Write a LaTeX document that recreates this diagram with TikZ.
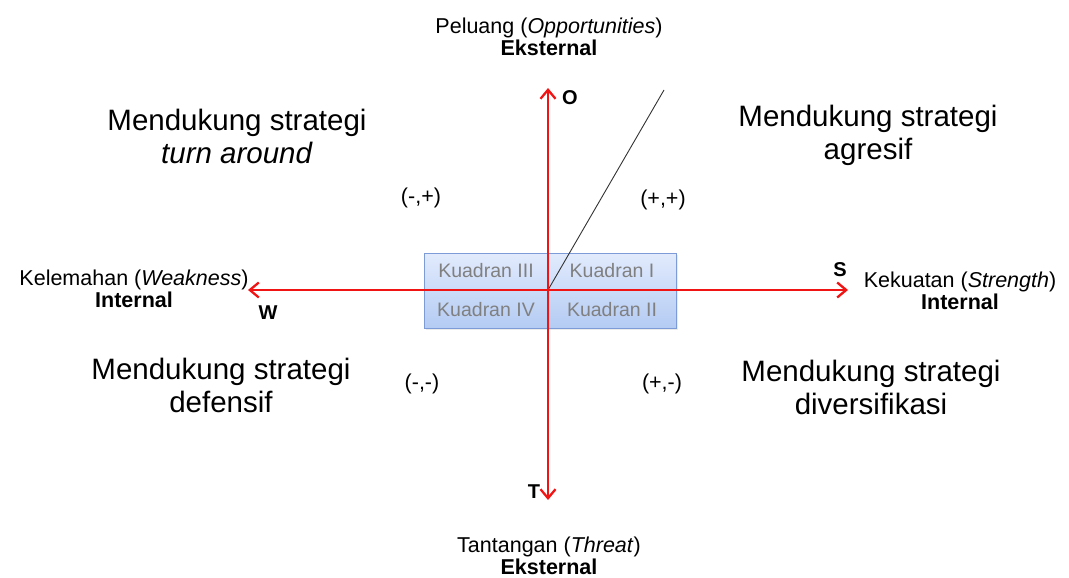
\documentclass[tikz,border=0pt]{standalone}
\usepackage{fontspec}
\setmainfont{Liberation Sans}
\usetikzlibrary{arrows.meta}
\definecolor{axred}{RGB}{240,20,20}
\definecolor{boxtop}{RGB}{226,235,253}
\definecolor{boxbot}{RGB}{180,203,243}
\definecolor{boxline}{RGB}{125,155,215}
\definecolor{quadtxt}{RGB}{128,128,128}
\tikzset{
  axis/.style={draw=axred, line width=2.6pt, -{Straight Barb[length=9pt,width=15pt,line width=2.3pt]}},
  bigtxt/.style={font=\fontsize{29.5}{33}\selectfont, align=center},
  smalltxt/.style={font=\fontsize{21.5}{22}\selectfont, align=center, inner sep=1pt},
  quad/.style={font=\fontsize{19.5}{23}\selectfont, text=quadtxt},
  letter/.style={font=\fontsize{20}{24}\selectfont\bfseries},
  sign/.style={font=\fontsize{21.5}{24}\selectfont},
}
\begin{document}
\begin{tikzpicture}[x=1pt,y=-1pt]
\useasboundingbox (0,0) rectangle (1069,578);
% quadrant box
\fill[black!8] (426,255) rectangle (678,330);
\shade[top color=boxtop, bottom color=boxbot, draw=boxline, line width=1pt] (424,253) rectangle (676,328);
\node[quad] (q3) at (486,271) {Kuadran III};
\node[quad] (q1) at (612,271) {Kuadran I};
\node[quad] (q4) at (486,310) {Kuadran IV};
\node[quad] (q2) at (612,310) {Kuadran II};
% axes
\coordinate (C) at (548,290);
\coordinate (Otip) at (548,88);
\coordinate (Ttip) at (548,500);
\coordinate (Wtip) at (248,290);
\coordinate (Stip) at (848,290);
\coordinate (D) at (664,90);
\draw[black!80, line width=0.9pt] (C) -- (D);
\draw[axis] (C) -- (Otip);
\draw[axis] (C) -- (Ttip);
\draw[axis] (C) -- (Wtip);
\draw[axis] (C) -- (Stip);
% axis letters
\node[letter] (O) at (570,98) {O};
\node[letter] (S) at (840,270) {S};
\node[letter] (W) at (268,313) {W};
\node[letter] (T) at (534,492) {T};
% outer labels
\node[smalltxt] (peluang) at (549,37) {Peluang (\textit{Opportunities})\\\textbf{Eksternal}};
\node[smalltxt] (kelemahan) at (134,289) {Kelemahan (\textit{Weakness})\\\textbf{Internal}};
\node[smalltxt] (kekuatan) at (960,291) {Kekuatan (\textit{Strength})\\\textbf{Internal}};
\node[smalltxt] (tantangan) at (549,556) {Tantangan (\textit{Threat})\\\textbf{Eksternal}};
% strategies
\node[bigtxt] (turn) at (237,136) {Mendukung strategi\\\textit{turn around}};
\node[bigtxt] (agresif) at (868,135) {Mendukung strategi\\agresif};
\node[bigtxt] (defensif) at (221,385) {Mendukung strategi\\defensif};
\node[bigtxt] (divers) at (871,387) {Mendukung strategi\\diversifikasi};
% signs
\node[sign] (mp) at (421,198) {(-,+)};
\node[sign] (pp) at (663,200) {(+,+)};
\node[sign] (mm) at (422,384) {(-,-)};
\node[sign] (pm) at (662,384) {(+,-)};
\end{tikzpicture}
\end{document}
